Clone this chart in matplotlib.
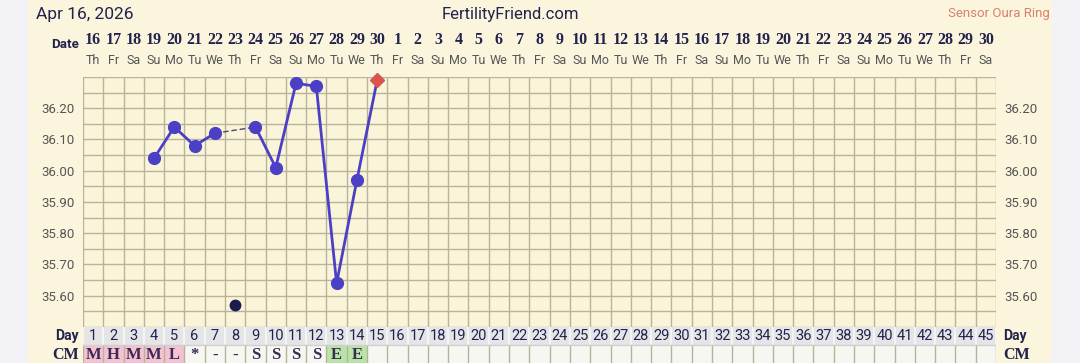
import matplotlib
matplotlib.use("Agg")
import matplotlib.pyplot as plt
from matplotlib.patches import Rectangle

# chart data
n_days = 45
date_nums = list(range(16, 31)) + list(range(1, 31))
weekdays = ["Th", "Fr", "Sa", "Su", "Mo", "Tu", "We"]
day_names = [weekdays[i % 7] for i in range(n_days)]
temp_days = [4, 5, 6, 7, 9, 10, 11, 12, 13, 14]
temps = [36.04, 36.14, 36.08, 36.12, 36.14, 36.01, 36.28, 36.27, 35.64, 35.97]
gap_from, gap_to = 7, 9          # dashed link over the discarded reading
discard_day, discard_temp = 8, 35.57
today_day, today_temp = 15, 36.29
cm_codes = ["M", "H", "M", "M", "L", "*", "-", "-", "S", "S", "S", "S", "E", "E"]
cm_colors = {"M": "#f4c2d0", "H": "#f4c2d0", "L": "#f4c2d0", "E": "#b9e4a6"}
y_ticks = [35.60, 35.70, 35.80, 35.90, 36.00, 36.10, 36.20]

W, H = 1080, 363
navy = "#22224e"
gridc = "#b9b39d"
linec = "#4b3fc6"

fig = plt.figure(figsize=(W / 100, H / 100), dpi=100)
fig.patch.set_facecolor("#f3f3f7")
fig.patches.append(Rectangle((28 / W, 0), (1052 - 28) / W, 1, transform=fig.transFigure,
                             facecolor="#faf5dc", edgecolor="none", zorder=-10))

def px(x0, y0, x1, y1):
    return [x0 / W, 1 - y1 / H, (x1 - x0) / W, (y1 - y0) / H]

gx0, gx1 = 83, 996
ax = fig.add_axes(px(gx0, 77, gx1, 327))
ax.set_facecolor("#faf5d8")
ax.set_xlim(0.5, n_days + 0.5)
ax.set_ylim(35.50, 36.30)
for i in range(n_days + 1):
    ax.axvline(0.5 + i, color=gridc, lw=1.0, zorder=1)
for k in range(17):
    ax.axhline(35.50 + 0.05 * k, color=gridc, lw=1.0, zorder=1)
for s in ax.spines.values():
    s.set_visible(False)
ax.set_xticks([])
ax.set_yticks(y_ticks)
ax.set_yticklabels(["%.2f" % v for v in y_ticks], fontsize=9.5, color="#555555",
                   fontfamily="Roboto")
ax.tick_params(axis="y", length=0, pad=6, labelright=True)

# temperature line
i_gap = temp_days.index(gap_from)
ax.plot(temp_days[:i_gap + 1], temps[:i_gap + 1], color=linec, lw=2, zorder=3)
ax.plot(temp_days[i_gap + 1:] + [today_day], temps[i_gap + 1:] + [today_temp],
        color=linec, lw=2, zorder=3)
ax.plot([gap_from, gap_to], [temps[i_gap], temps[i_gap + 1]], color="#4a4a6a",
        lw=1, ls=(0, (4, 2)), zorder=2)
ax.plot(temp_days, temps, "o", color=linec, ms=8.5, zorder=4)
ax.plot([discard_day], [discard_temp], "o", color="#1b1b4d", ms=7.5, zorder=4)
ax.plot([today_day], [today_temp], "D", color="#d9534f", ms=7, zorder=5, clip_on=False)

# header rows
for i in range(n_days):
    xf = (gx0 + (i + 0.5) * (gx1 - gx0) / n_days) / W
    fig.text(xf, 1 - 40 / H, str(date_nums[i]), ha="center", va="center",
             fontsize=11.5, fontweight="bold", family="Liberation Serif", color=navy)
    fig.text(xf, 1 - 61 / H, day_names[i], ha="center", va="center",
             fontsize=9, family="Roboto", color="#555555")
fig.text(79 / W, 1 - 45 / H, "Date", ha="right", va="center", fontsize=9.5,
         fontweight="bold", family="Roboto", color=navy)
fig.text(36 / W, 1 - 14 / H, "Apr 16, 2026", ha="left", va="center", fontsize=12.5,
         family="Roboto", color=navy)
fig.text(510 / W, 1 - 14 / H, "FertilityFriend.com", ha="center", va="center",
         fontsize=12, family="Roboto", color=navy)
fig.text(1050 / W, 1 - 14 / H, "Sensor Oura Ring", ha="right", va="center",
         fontsize=9.5, family="Roboto", color="#d7816f")

# day / CM rows
rx = fig.add_axes(px(gx0, 327, gx1, 363))
rx.set_xlim(0.5, n_days + 0.5)
rx.set_ylim(0, 2)
rx.axis("off")
rx.add_patch(Rectangle((0.5, 1), n_days, 1, facecolor="#e5e5e8", edgecolor="none"))
rx.add_patch(Rectangle((0.5, 0), n_days, 1, facecolor="#f7f7f2", edgecolor="none"))
for i, code in enumerate(cm_codes):
    if code in cm_colors:
        rx.add_patch(Rectangle((i + 0.5, 0), 1, 1, facecolor=cm_colors[code], edgecolor="none"))
    rx.text(i + 1, 0.42, code, ha="center", va="center", fontsize=12,
            fontweight="bold", family="Liberation Serif", color="#3a2a55")
for i in range(n_days + 1):
    rx.plot([0.5 + i, 0.5 + i], [1, 2], color="#f8f8f8", lw=1.2)
    rx.plot([0.5 + i, 0.5 + i], [0, 1], color=gridc, lw=1.0)
for i in range(n_days):
    rx.text(i + 1, 1.5, str(i + 1), ha="center", va="center", fontsize=10.5,
            family="Roboto", color=navy)
rx.axhline(1, color="#d0d0d0", lw=1)
for xp, ha in ((79, "right"), (1003, "left")):
    fig.text(xp / W, 1 - 336 / H, "Day", ha=ha, va="center", fontsize=10,
             fontweight="bold", family="Roboto", color=navy)
    fig.text(xp / W, 1 - 355 / H, "CM", ha=ha, va="center", fontsize=11.5,
             fontweight="bold", family="Liberation Serif", color=navy)

fig.savefig("out.png", dpi=100, facecolor=fig.get_facecolor())
